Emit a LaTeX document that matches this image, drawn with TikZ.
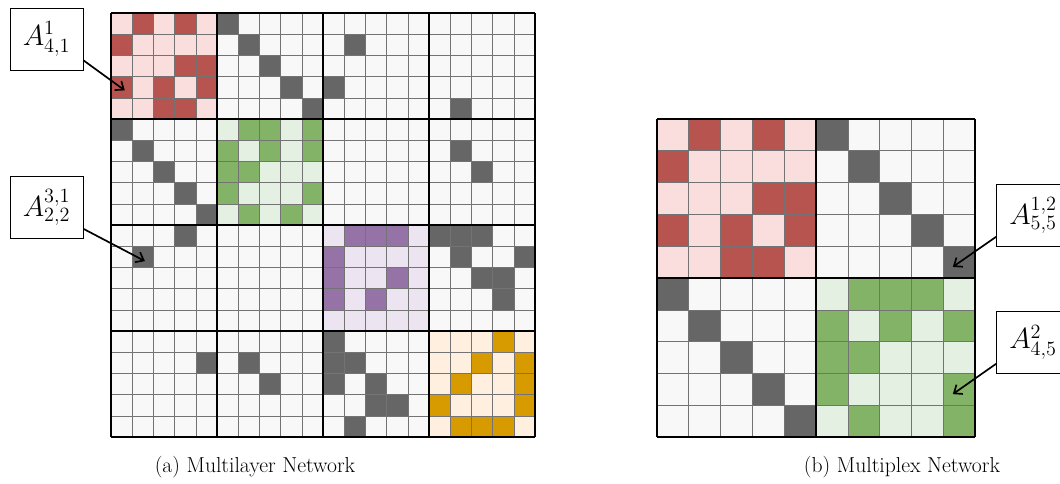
\documentclass[tikz,border=0pt]{standalone}
\usetikzlibrary{arrows.meta,shadows}
\definecolor{cellbg}{HTML}{F8F8F8}
\definecolor{cellgray}{HTML}{666666}
\definecolor{cellred}{HTML}{B85450}
\definecolor{lightred}{HTML}{FADEDE}
\definecolor{cellgreen}{HTML}{82B366}
\definecolor{lightgreen}{HTML}{E4F0E2}
\definecolor{cellpurple}{HTML}{9673A6}
\definecolor{lightpurple}{HTML}{ECE4F0}
\definecolor{cellorange}{HTML}{D79B00}
\definecolor{lightorange}{HTML}{FFEFDF}
\begin{document}
\begin{tikzpicture}[x=0.025cm,y=-0.025cm,
  cellline/.style={draw=black!55,line width=0.45pt},
  blockline/.style={draw=black,line width=1.2pt},
  lbl/.style={draw,fill=white,line width=0.5pt,minimum width=52pt,minimum height=44pt,
    inner sep=0pt,drop shadow={shadow xshift=0.7pt,shadow yshift=-0.7pt,opacity=0.4},
    font=\fontsize{22}{26}\selectfont},
  callout/.style={line width=1.2pt,-{Straight Barb[length=5pt,width=8pt]}},
  captext/.style={font=\fontsize{15.4}{18}\selectfont}]
\useasboundingbox (0,0) rectangle (1060,484);

\begin{scope}[shift={(111,13)},x=0.53cm,y=-0.53cm]
\fill[cellbg] (0,0) rectangle (20,20);
\fill[lightred] (0,0) rectangle (5,5);
\fill[lightgreen] (5,5) rectangle (10,10);
\fill[lightpurple] (10,10) rectangle (15,15);
\fill[lightorange] (15,15) rectangle (20,20);
\foreach \r/\c in {1/2,1/4,2/1,3/4,3/5,4/1,4/3,4/5,5/3,5/4}
  \fill[cellred] (\c-1,\r-1) rectangle (\c,\r);
\foreach \r/\c in {6/7,6/8,6/10,7/6,7/8,7/10,8/6,8/7,9/6,9/10,10/7,10/9}
  \fill[cellgreen] (\c-1,\r-1) rectangle (\c,\r);
\foreach \r/\c in {11/12,11/13,11/14,12/11,13/11,13/14,14/11,14/13}
  \fill[cellpurple] (\c-1,\r-1) rectangle (\c,\r);
\foreach \r/\c in {16/19,17/18,17/20,18/17,18/20,19/16,19/20,20/17,20/18,20/19}
  \fill[cellorange] (\c-1,\r-1) rectangle (\c,\r);
\foreach \r/\c in {1/6,2/7,3/8,4/9,5/10,2/12,4/11,5/17,6/1,7/2,8/3,9/4,10/5,7/17,8/18,
  11/4,12/2,11/16,11/17,11/18,12/17,12/20,13/18,13/19,14/19,17/5,17/7,18/8,
  16/11,17/11,17/12,18/11,18/13,19/13,19/14,20/12}
  \fill[cellgray] (\c-1,\r-1) rectangle (\c,\r);
\foreach \i in {0,...,20} {
  \draw[cellline] (\i,0) -- (\i,20);
  \draw[cellline] (0,\i) -- (20,\i);
}
\foreach \i in {0,5,...,20} {
  \draw[blockline] (\i,0) -- (\i,20);
  \draw[blockline] (0,\i) -- (20,\i);
}
\coordinate (a41) at (0.65,3.65);
\coordinate (a22) at (1.6,11.7);
\end{scope}

\begin{scope}[shift={(657,119)},x=0.795cm,y=-0.795cm]
\fill[cellbg] (0,0) rectangle (10,10);
\fill[lightred] (0,0) rectangle (5,5);
\fill[lightgreen] (5,5) rectangle (10,10);
\foreach \r/\c in {1/2,1/4,2/1,3/4,3/5,4/1,4/3,4/5,5/3,5/4}
  \fill[cellred] (\c-1,\r-1) rectangle (\c,\r);
\foreach \r/\c in {6/7,6/8,6/9,7/6,7/8,7/10,8/6,8/7,9/6,9/10,10/7,10/10}
  \fill[cellgreen] (\c-1,\r-1) rectangle (\c,\r);
\foreach \r/\c in {1/6,2/7,3/8,4/9,5/10,6/1,7/2,8/3,9/4,10/5}
  \fill[cellgray] (\c-1,\r-1) rectangle (\c,\r);
\foreach \i in {0,...,10} {
  \draw[cellline] (\i,0) -- (\i,10);
  \draw[cellline] (0,\i) -- (10,\i);
}
\foreach \i in {0,5,10} {
  \draw[blockline] (\i,0) -- (\i,10);
  \draw[blockline] (0,\i) -- (10,\i);
}
\coordinate (b55) at (9.3,4.65);
\coordinate (b45) at (9.3,8.65);
\end{scope}

\node[lbl] (l1) at (46.5,39) {$A^{1}_{4,1}$};
\node[lbl] (l2) at (46.5,207.5) {$A^{3,1}_{2,2}$};
\node[lbl] (l3) at (1033,215.5) {$A^{1,2}_{5,5}$};
\node[lbl] (l4) at (1033,342.5) {$A^{2}_{4,5}$};
\draw[callout] (l1.-30) -- (a41);
\draw[callout] (l2.-30) -- (a22);
\draw[callout] (l3.-150) -- (b55);
\draw[callout] (l4.-150) -- (b45);

\node[captext] (capa) at (255,467) {(a) Multilayer Network};
\node[captext] (capb) at (902,467) {(b) Multiplex Network};
\end{tikzpicture}
\end{document}
